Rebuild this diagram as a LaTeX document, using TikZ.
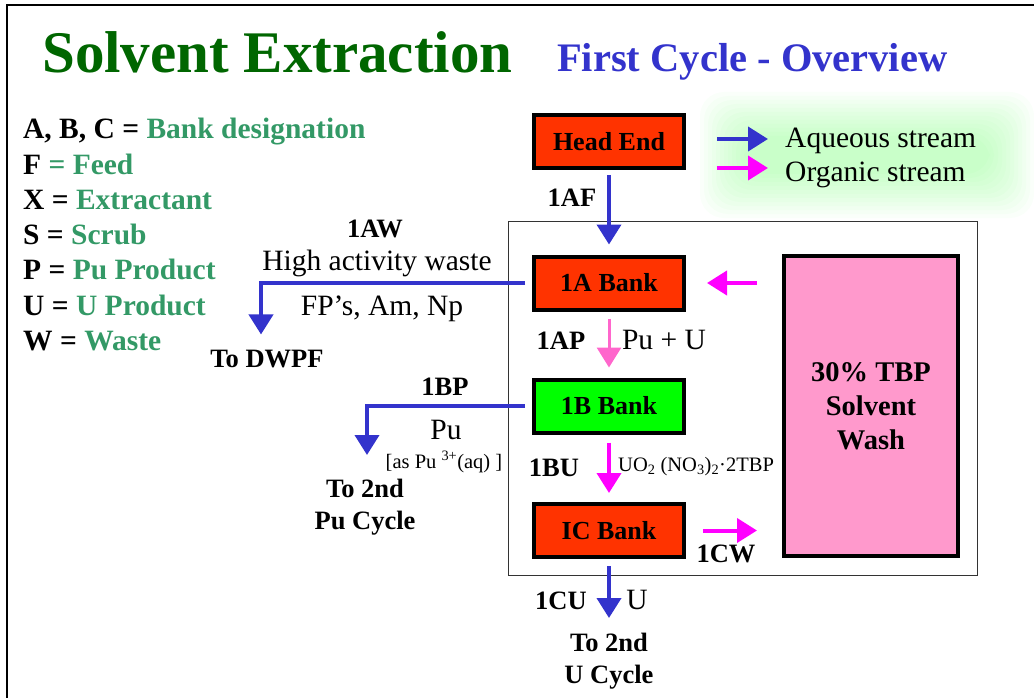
\documentclass[tikz,border=0pt]{standalone}
\usepackage{fontspec}
\setmainfont{Liberation Serif}
\usetikzlibrary{positioning,arrows.meta}
\definecolor{titlegreen}{RGB}{0,102,0}
\definecolor{titleblue}{RGB}{51,51,204}
\definecolor{keygreen}{RGB}{51,153,102}
\definecolor{aqblue}{RGB}{51,51,204}
\definecolor{orgpink}{RGB}{255,0,255}
\definecolor{lightpink}{RGB}{255,102,204}
\definecolor{bankred}{RGB}{255,51,0}
\definecolor{bankgreen}{RGB}{0,255,0}
\definecolor{washpink}{RGB}{255,153,204}
\newcommand{\pxsize}[2]{\fontsize{#1}{#2}\selectfont}
\tikzset{bank/.style={draw=black, line width=4pt, minimum width=150pt,
                      minimum height=53pt, inner sep=0pt, font=\bfseries\pxsize{26}{30}},
         lbl/.style={inner sep=0pt, anchor=base, font=\bfseries\pxsize{26.5}{32}},
         txt/.style={inner sep=0pt, anchor=base, font=\pxsize{29.5}{32}},
         small/.style={inner sep=0pt, anchor=base, font=\pxsize{20.5}{22}},
         key/.style={inner sep=0pt, anchor=base west, font=\bfseries\pxsize{29.5}{32}},
         stream/.style={line width=4pt, -{Triangle[length=20pt,width=24pt]}},
         aq/.style={stream, draw=aqblue},
         org/.style={stream, draw=orgpink},
         glow/.style={fill=green, opacity=0.018, rounded corners=24pt}
}

\begin{document}
\begin{tikzpicture}[x=1pt, y=-1pt, line join=miter]
    \useasboundingbox (0,0) rectangle (1034,698);
    % slide frame
    \draw[line width=2pt] (7,698) -- (7,5) -- (1034,5);

    % titles
    \node[anchor=base west, inner sep=0pt, font=\bfseries\pxsize{59}{60}, text=titlegreen]
        (title) at (42,73) {Solvent Extraction};
    \node[anchor=base west, inner sep=0pt, font=\bfseries\pxsize{40.5}{44}, text=titleblue]
        (subtitle) at (557,72) {First Cycle - Overview};

    % key
    \foreach \k/\v [count=\i from 0] in {{A, B, C =}/{Bank designation}, {F}/{= Feed},
            {X =}/{Extractant}, {S =}/{Scrub}, {P =}/{Pu Product},
            {U =}/{U Product}, {W =}/{Waste}}
        \node[key] (key\i) at (23,139+35.2*\i) {\k\ \textcolor{keygreen}{\v}};

    % legend
    \foreach \d in {0,4,...,44}
        \fill[glow] (700+\d,92+\d) rectangle (1034-\d,218-\d);
    \node[txt, anchor=base west] (aqtext)  at (785,148) {Aqueous stream};
    \node[txt, anchor=base west] (orgtext) at (785,182) {Organic stream};
    \coordinate (aqfrom)  at (717,139);
    \coordinate (orgfrom) at (717,168);
    \draw[aq,  shorten >=17pt] (aqfrom)  -- (aqfrom -| aqtext.west);
    \draw[org, shorten >=17pt] (orgfrom) -- (orgfrom -| orgtext.west);

    % first cycle frame
    \draw[line width=1pt, black!80] (508,221) rectangle (977,575);

    % banks
    \node[bank, fill=bankred]   (headend) at (609,141.5) {Head End};
    \node[bank, fill=bankred]   (bankA)   at (609,283)   {1A Bank};
    \node[bank, fill=bankgreen] (bankB)   at (609,406)   {1B Bank};
    \node[bank, fill=bankred]   (bankC)   at (609,530.5) {IC Bank};
    \node[bank, fill=washpink, minimum width=174pt, minimum height=300pt, align=center,
          font=\bfseries\pxsize{28.5}{34}] (wash) at (871,406) {30\% TBP\\Solvent\\Wash};

    % destinations
    \node[lbl] (todwpf) at (267,367) {To DWPF};
    \node[lbl, align=center, anchor=north] (topu) at (365,479) {To 2nd\\Pu Cycle};
    \node[lbl, align=center, anchor=north] (tou)  at (609,633) {To 2nd\\U Cycle};

    % streams
    \draw[aq, shorten <=5pt, shorten >=10pt] (headend) -- (bankA);
    \draw[aq, shorten <=7pt, shorten >=15pt] (bankA.west) -| ([xshift=-6pt]todwpf.north);
    \draw[org, shorten <=25pt, shorten >=21pt] (wash.west |- bankA.east) -- (bankA.east);
    \draw[stream, line width=3pt, draw=lightpink,
          shorten <=7pt, shorten >=10pt] (bankA) -- (bankB);
    \draw[aq, shorten <=7pt, shorten >=24pt] (bankB.west) -| ([xshift=2pt]topu.north);
    \draw[org, shorten <=8pt, shorten >=9pt] (bankB) -- (bankC);
    \draw[org, shorten <=17pt, shorten >=25pt] (bankC.east) -- (bankC.east -| wash.west);
    \draw[aq, shorten <=7pt, shorten >=15pt] (bankC) -- (tou);

    % stream labels
    \node[lbl] (lblAF)  at (572,207) {1AF};
    \node[lbl] (lblAW)  at (375,237) {1AW};
    \node[txt] (lblAWa) at (377,270) {High activity waste};
    \node[txt] (lblAWb) at (382,315) {FP’s, Am, Np};
    \node[lbl] (lblAP)  at (561,349) {1AP};
    \node[txt] (lblAPa) at (664,349) {Pu + U};
    \node[lbl] (lblBP)  at (445,395) {1BP};
    \node[txt] (lblBPa) at (446,439) {Pu};
    \node[small] (lblBPb) at (444,468) {[as Pu \textsuperscript{3+}(aq) ]};
    \node[lbl] (lblBU)  at (554,476) {1BU};
    \node[small, anchor=base west] (lblBUa) at (618,471)
        {UO\textsubscript{2} (NO\textsubscript{3})\textsubscript{2}·2TBP};
    \node[lbl] (lblCW)  at (726,562) {1CW};
    \node[lbl] (lblCU)  at (561,609) {1CU};
    \node[txt] (lblCUa) at (637,609) {U};
\end{tikzpicture}
\end{document}
